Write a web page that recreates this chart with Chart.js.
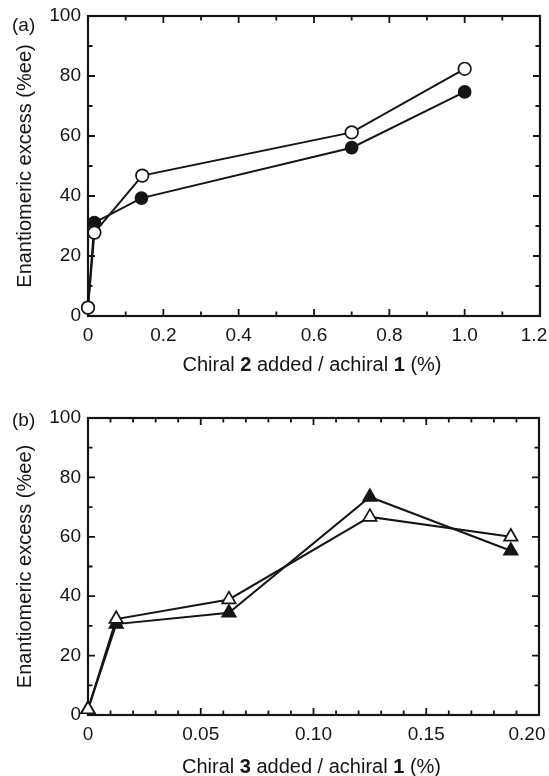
<!DOCTYPE html>
<html><head><meta charset="utf-8">
<script src="https://cdn.jsdelivr.net/npm/chart.js@4.4.0/dist/chart.umd.min.js"></script>
<style>
html,body{margin:0;padding:0;background:#fff;}
#wrap{position:relative;width:549px;height:776px;overflow:hidden;font-family:"Liberation Sans",Arial,sans-serif;color:#151515;}
.cv{position:absolute;left:0;width:549px;height:388px;}
.lbl{position:absolute;font-size:19px;line-height:22px;white-space:nowrap;}
.xt{position:absolute;font-size:20px;line-height:22px;text-align:center;white-space:nowrap;}
</style></head><body>
<div id="wrap">
  <div class="cv" style="top:0"><canvas id="ca" width="549" height="388"></canvas></div>
  <div class="cv" style="top:388px"><canvas id="cb" width="549" height="388"></canvas></div>
  <div class="lbl" style="left:12px;top:14px">(a)</div>
  <div class="lbl" style="left:12px;top:409px">(b)</div>
  <div class="xt" style="left:86px;width:452px;top:353px">Chiral <b>2</b> added / achiral <b>1</b> (%)</div>
  <div class="xt" style="left:86px;width:451px;top:755px">Chiral <b>3</b> added / achiral <b>1</b> (%)</div>
</div>
<script>
// ---- Panel (a) data ----
const xA_open = [0, 0.017, 0.144, 0.70, 1.0];
const yA_open = [2.8, 27.8, 46.8, 61.2, 82.4];
const xA_fill = [0, 0.017, 0.142, 0.70, 1.0];
const yA_fill = [2.8, 31.1, 39.3, 56.1, 74.7];
const xTicksA = [0, 0.2, 0.4, 0.6, 0.8, 1.0, 1.2];
const xTickLabelsA = ["0", "0.2", "0.4", "0.6", "0.8", "1.0", "1.2"];
const xMinorA = [0.1, 0.3, 0.5, 0.7, 0.9, 1.1];

// ---- Panel (b) data ----
const xB = [0, 0.0125, 0.0625, 0.125, 0.1875];
const yB_open = [1.9, 32.3, 38.9, 66.7, 60.0];
const yB_fill = [1.9, 30.6, 34.4, 73.4, 55.3];
const xTicksB = [0, 0.05, 0.10, 0.15, 0.20];
const xTickLabelsB = ["0", "0.05", "0.10", "0.15", "0.20"];
const xMinorB = [0.01,0.02,0.03,0.04,0.06,0.07,0.08,0.09,0.11,0.12,0.13,0.14,0.16,0.17,0.18,0.19];

// ---- shared y ticks ----
const yTicks = [0, 20, 40, 60, 80, 100];
const yTickLabels = ["0", "20", "40", "60", "80", "100"];
const yMinor = [10, 30, 50, 70, 90];

const INK = '#151515';

const frameTicks = {
  id: 'frameTicks',
  beforeDraw(chart, args, opts) {
    // keep the last x tick label inside the canvas, as in the original figure
    const x = chart.scales.x;
    const items = x.getLabelItems(chart.chartArea);
    const last = items[items.length - 1];
    if (last && !last._shifted) {
      last.options.translation[0] -= opts.lastShift;
      last._shifted = true;
    }
  },
  beforeDatasetsDraw(chart, args, opts) {
    const {ctx, chartArea: a, scales: {x, y}} = chart;
    ctx.save();
    ctx.strokeStyle = INK;
    ctx.lineWidth = 2.2;
    ctx.strokeRect(a.left, a.top, a.right - a.left, a.bottom - a.top);
    const tick = (vals, len, horiz) => {
      vals.forEach(v => {
        ctx.beginPath();
        if (horiz) {
          const p = x.getPixelForValue(v);
          ctx.moveTo(p, a.bottom); ctx.lineTo(p, a.bottom - len);
          ctx.moveTo(p, a.top); ctx.lineTo(p, a.top + len);
        } else {
          const p = y.getPixelForValue(v);
          ctx.moveTo(a.left, p); ctx.lineTo(a.left + len, p);
          ctx.moveTo(a.right, p); ctx.lineTo(a.right - len, p);
        }
        ctx.stroke();
      });
    };
    ctx.lineWidth = 1.8;
    tick(opts.xMajor, 7, true);
    tick(opts.xMinor, 4.5, true);
    tick(opts.yMajor, 7, false);
    tick(opts.yMinor, 4.5, false);
    ctx.restore();
  }
};

function pts(xs, ys) { return xs.map((v, i) => ({x: v, y: ys[i]})); }

function makeChart(id, cfg) {
  const tickFont = {family: '"Liberation Sans", Arial, sans-serif', size: 19};
  return new Chart(document.getElementById(id), {
    type: 'line',
    data: {datasets: cfg.datasets},
    plugins: [frameTicks],
    options: {
      responsive: false,
      animation: false,
      layout: {padding: {left: 0, right: cfg.padRight, top: cfg.padTop, bottom: 0}},
      plugins: {
        legend: {display: false},
        tooltip: {enabled: false},
        frameTicks: {
          xMajor: cfg.xTicks.slice(1, -1), xMinor: cfg.xMinor,
          yMajor: yTicks.slice(1, -1), yMinor: yMinor,
          lastShift: cfg.lastShift
        }
      },
      scales: {
        x: {
          type: 'linear', min: cfg.xTicks[0], max: cfg.xTicks[cfg.xTicks.length - 1],
          grid: {display: false, drawTicks: false},
          border: {display: false},
          afterBuildTicks: s => { s.ticks = cfg.xTicks.map(v => ({value: v})); },
          afterFit: s => { s.height = cfg.xAxisH; s.paddingLeft = 0; s.paddingRight = 0; },
          ticks: {font: tickFont, color: INK, padding: 8, autoSkip: false, maxRotation: 0,
                  callback: (v, i) => cfg.xLabels[i]}
        },
        y: {
          type: 'linear', min: 0, max: 100,
          grid: {display: false, drawTicks: false},
          border: {display: false},
          afterBuildTicks: s => { s.ticks = yTicks.map(v => ({value: v})); },
          afterFit: s => { s.width = 88; s.paddingTop = 0; s.paddingBottom = 0; },
          ticks: {font: tickFont, color: INK, padding: 7, autoSkip: false,
                  callback: (v, i) => yTickLabels[i]},
          title: {display: true, text: 'Enantiomeric excess (%ee)', color: INK,
                  font: {family: '"Liberation Sans", Arial, sans-serif', size: 20},
                  padding: {top: 13, bottom: 0}}
        }
      }
    }
  });
}

const lineBase = {borderColor: INK, borderWidth: 2, tension: 0, clip: false,
                  pointBorderColor: INK, pointBorderWidth: 1.7};

makeChart('ca', {
  padTop: 16, padRight: 9, xAxisH: 72, lastShift: 6,
  xTicks: xTicksA, xLabels: xTickLabelsA, xMinor: xMinorA,
  datasets: [
    Object.assign({label: 'open', data: pts(xA_open, yA_open), pointStyle: 'circle',
      pointRadius: 6.3, pointBackgroundColor: '#fff'}, lineBase),
    Object.assign({label: 'filled', data: pts(xA_fill, yA_fill), pointStyle: 'circle',
      pointRadius: 6, pointBackgroundColor: INK}, lineBase)
  ]
});

makeChart('cb', {
  padTop: 30, padRight: 10, xAxisH: 61, lastShift: 12,
  xTicks: xTicksB, xLabels: xTickLabelsB, xMinor: xMinorB,
  datasets: [
    Object.assign({label: 'open', data: pts(xB, yB_open), pointStyle: 'triangle',
      pointRadius: 7.8, pointBackgroundColor: '#fff'}, lineBase),
    Object.assign({label: 'filled', data: pts(xB, yB_fill), pointStyle: 'triangle',
      pointRadius: 7.8, pointBackgroundColor: INK}, lineBase)
  ]
});
</script>
</body></html>
